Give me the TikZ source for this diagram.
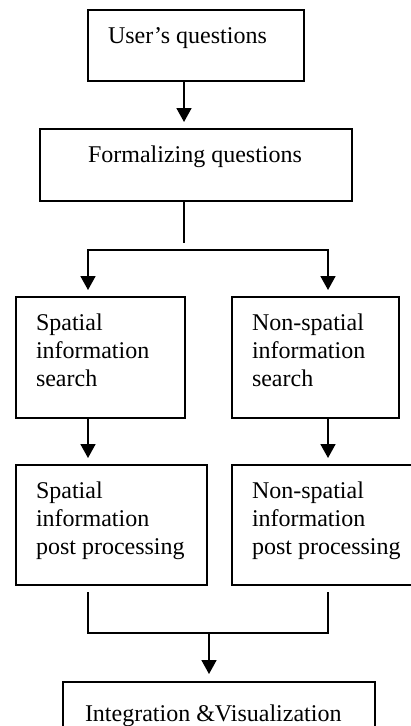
\documentclass[tikz,border=0pt]{standalone}
\usepackage{fontspec}
\setmainfont{Liberation Serif}
\usepackage{tikz}
\usetikzlibrary{arrows.meta, positioning}

% text block at the top-left of a box: width, height, lines
\newcommand{\boxtext}[3]{\parbox[c][#2][t]{#1}{\raggedright\strut #3}}

\begin{document}
\begin{tikzpicture}[
        x=1pt, y=-1pt,                            % one unit = one pixel, y downwards
        >={Triangle[width=15pt,length=14pt]},     % filled arrow heads
        line width=1.8pt,
        font=\fontsize{24}{28}\selectfont,
        block/.style={                            % plain framed box
            draw=black,
            rectangle,
            anchor=north west,
            outer sep=0pt,
            inner xsep=20pt,
            inner ysep=14pt
        }
    ]
    \useasboundingbox (0,0) rectangle (411,726);

    % --- Boxes ---

    % 1. Question from the user
    \node[block] (user) at (88,10) {\boxtext{176pt}{43pt}{User's questions}};

    % 2. Formalizing
    \node[block, inner xsep=48pt] (formal) at (40,129) {\boxtext{216pt}{44pt}{Formalizing questions}};

    % 3. Searches (left and right)
    \node[block] (spsearch) at (16,297) {\boxtext{129pt}{93pt}{Spatial\\information\\search}};
    \node[block] (nssearch) at (232,297) {\boxtext{127pt}{93pt}{Non-spatial\\information\\search}};

    % 4. Post processing (left and right, the right one runs off the page)
    \node[block] (sppost) at (16,465) {\boxtext{151pt}{92pt}{Spatial\\information\\post processing}};
    \node[block] (nspost) at (232,465) {\boxtext{160pt}{92pt}{Non-spatial\\information\\post processing}};

    % 5. Result
    \node[block, inner xsep=22pt, inner ysep=20pt] (integ) at (63,682) {\boxtext{268pt}{40pt}{Integration \&Visualization}};

    % --- Branch points ---
    \coordinate (split) at (184,243);
    \coordinate (forkL) at (88,250);
    \coordinate (forkR) at (328,250);
    \coordinate (joinL) at (88,633);
    \coordinate (joinR) at (328,633);
    \coordinate (merge) at (209,633);

    % --- Connectors ---

    % 1. user -> formal
    \draw[->, shorten >=7pt] (user.south -| split) -- (formal.north -| split);

    % 2. formal -> split (stops short of the fork)
    \draw (formal.south -| split) -- (split);

    % 3. fork to the two searches
    \draw[<->, shorten <=7pt, shorten >=7pt] (spsearch.north -| forkL) -- (forkL) -- (forkR) -- (nssearch.north -| forkR);

    % 4. search -> post processing
    \draw[->, shorten >=7pt] (spsearch.south -| forkL) -- (sppost.north -| forkL);
    \draw[->, shorten >=7pt] (nssearch.south -| forkR) -- (nspost.north -| forkR);

    % 5. join of the two branches -> result
    \draw[shorten <=7pt, shorten >=7pt] (sppost.south -| joinL) -- (joinL) -- (joinR) -- (nspost.south -| joinR);
    \draw[->, shorten >=8pt] (merge) -- (integ.north -| merge);

\end{tikzpicture}
\end{document}
